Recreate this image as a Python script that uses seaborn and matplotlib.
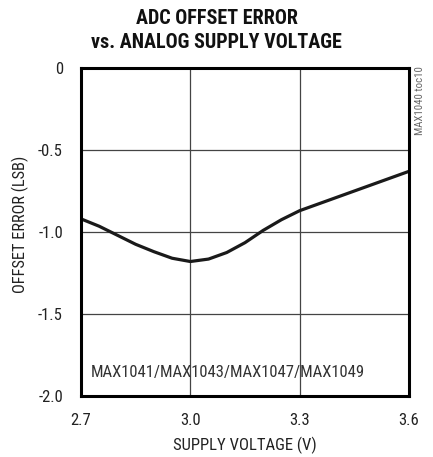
import matplotlib
matplotlib.use('Agg')
import matplotlib.pyplot as plt
import seaborn as sns
import pandas as pd

# curve
voltage = [2.70, 2.75, 2.80, 2.85, 2.90, 2.95, 3.00, 3.05, 3.10, 3.15, 3.20, 3.25, 3.30, 3.40, 3.50, 3.60]
offset_err = [-0.92, -0.965, -1.02, -1.075, -1.12, -1.16, -1.18, -1.165, -1.125, -1.065, -0.99, -0.925, -0.87, -0.79, -0.71, -0.63]

x_ticks = [2.7, 3.0, 3.3, 3.6]
x_labels = ['2.7', '3.0', '3.3', '3.6']
y_ticks = [0, -0.5, -1.0, -1.5, -2.0]
y_labels = ['0', '-0.5', '-1.0', '-1.5', '-2.0']

df = pd.DataFrame({'v': voltage, 'err': offset_err})

sns.set_theme(style='white')
plt.rcParams['font.family'] = ['Roboto Condensed', 'DejaVu Sans']

fig = plt.figure(figsize=(4.33, 4.57), dpi=100)
ax = fig.add_axes([81/433, 1-396/457, 328/433, 328/457])

sns.lineplot(data=df, x='v', y='err', ax=ax, color='#1a1a1a', linewidth=2.3)

ax.set_xlim(2.7, 3.6)
ax.set_ylim(-2.0, 0)
ax.set_xticks(x_ticks)
ax.set_xticklabels(x_labels, fontsize=12)
ax.set_yticks(y_ticks)
ax.set_yticklabels(y_labels, fontsize=12)
ax.tick_params(axis='x', length=0, pad=12, colors='#222222')
ax.tick_params(axis='y', length=0, pad=13, colors='#222222')
ax.grid(True, color='#444444', linewidth=0.9)
ax.set_axisbelow(True)
for s in ax.spines.values():
    s.set_linewidth(2.2)
    s.set_color('black')

ax.set_xlabel('SUPPLY VOLTAGE (V)', fontsize=12, color='#222222', va='center')
ax.xaxis.set_label_coords(0.5, -(445 - 396) / 328)
ax.set_ylabel('OFFSET ERROR (LSB)', fontsize=11.8, color='#222222', va='center')
ax.yaxis.set_label_coords(-(81 - 20) / 328, (396 - 224) / 328)

ax.text(0.03, 0.05, 'MAX1041/MAX1043/MAX1047/MAX1049', transform=ax.transAxes,
        fontsize=12, color='#333333', ha='left', va='bottom')

fig.text(0.5, 1-18/457, 'ADC OFFSET ERROR', ha='center', va='center',
         fontsize=14.5, fontweight='bold', color='#111111')
fig.text(0.5, 1-42/457, 'vs. ANALOG SUPPLY VOLTAGE', ha='center', va='center',
         fontsize=14.5, fontweight='bold', color='#111111')
fig.text(420/433, 1-66/457, 'MAX1040 toc10', rotation=90, ha='center', va='top',
         fontsize=7.8, color='#666666')

fig.savefig('out.png', dpi=100)
